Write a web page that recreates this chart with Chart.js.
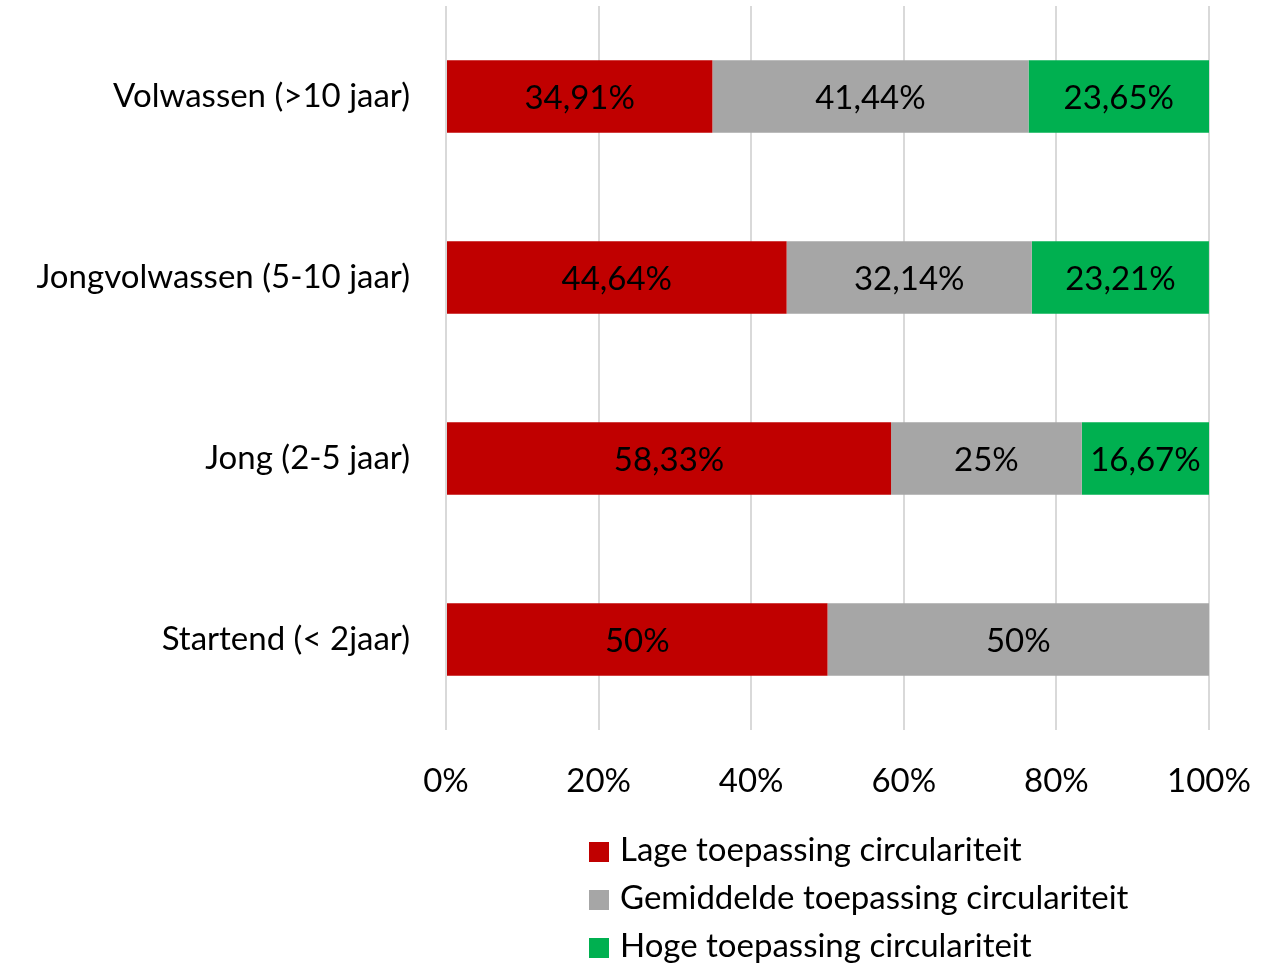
<!DOCTYPE html>
<html>
<head>
<meta charset="utf-8">
<script src="https://cdn.jsdelivr.net/npm/chart.js@4.4.1/dist/chart.umd.min.js"></script>
<style>
  body { margin:0; background:#fff; }
  #wrap { position:relative; width:1281px; height:967px; }
  #legend { position:absolute; left:589px; top:824px; font-family:Lato, sans-serif; font-size:33px; color:#000; }
  #legend div { height:48px; line-height:48px; white-space:nowrap; }
  #legend span { display:inline-block; width:20px; height:20px; margin-right:11px; vertical-align:-1px; }
</style>
</head>
<body>
<div id="wrap">
  <canvas id="chart" width="1281" height="967"></canvas>
  <div id="legend"></div>
</div>
<script>
const categories = ['Volwassen (>10 jaar)', 'Jongvolwassen (5-10 jaar)', 'Jong (2-5 jaar)', 'Startend (< 2jaar)'];
const seriesNames = ['Lage toepassing circulariteit', 'Gemiddelde toepassing circulariteit', 'Hoge toepassing circulariteit'];
const lage = [34.91, 44.64, 58.33, 50];
const gemiddeld = [41.44, 32.14, 25, 50];
const hoge = [23.65, 23.21, 16.67, 0];
const colors = ['#C00000', '#A6A6A6', '#00B050'];
const tickValues = [0, 20, 40, 60, 80, 100];

const font = 'Lato, sans-serif';
const fontSize = 33;

function fmt(v){
  return Number.isInteger(v) ? v + '%' : v.toFixed(2).replace('.', ',') + '%';
}

// draws the value inside each bar segment
const barLabels = {
  id:'barLabels',
  afterDatasetsDraw(chart){
    const c = chart.ctx;
    c.save();
    c.font = fontSize + 'px ' + font;
    c.fillStyle = '#000';
    c.textAlign = 'center';
    c.textBaseline = 'middle';
    chart.data.datasets.forEach((ds, i) => {
      const meta = chart.getDatasetMeta(i);
      meta.data.forEach((bar, j) => {
        const v = ds.data[j];
        if(!v) return;
        const p = bar.getProps(['x','base','y'], true);
        c.fillText(fmt(v), (p.x + p.base)/2, p.y + 2);
      });
    });
    c.restore();
  }
};

const ctx = document.getElementById('chart').getContext('2d');
new Chart(ctx, {
  type:'bar',
  data:{
    labels: categories,
    datasets:[
      { label:seriesNames[0], data:lage, backgroundColor:colors[0] },
      { label:seriesNames[1], data:gemiddeld, backgroundColor:colors[1] },
      { label:seriesNames[2], data:hoge, backgroundColor:colors[2] }
    ]
  },
  options:{
    indexAxis:'y',
    responsive:false,
    animation:false,
    datasets:{ bar:{ categoryPercentage:1, barPercentage:0.4 } },
    layout:{ padding:{ top:6, right:72, left:0, bottom:0 } },
    plugins:{ legend:{ display:false }, tooltip:{ enabled:false } },
    scales:{
      x:{
        stacked:true, min:0, max:100,
        afterBuildTicks: s => { s.ticks = tickValues.map(v => ({ value:v })); },
        afterFit: s => { s.height = 237; s.paddingLeft = 0; s.paddingRight = 0; },
        grid:{ color:'#D9D9D9', lineWidth:2, drawTicks:false },
        border:{ display:false },
        ticks:{ padding:32, color:'#000', font:{ family:font, size:fontSize }, callback: v => v + '%' }
      },
      y:{
        stacked:true,
        afterFit: s => { s.width = 446; s.paddingTop = 0; s.paddingBottom = 0; },
        grid:{ display:false },
        border:{ display:false },
        ticks:{ padding:28, color:'#000', font:{ family:font, size:fontSize } }
      }
    }
  },
  plugins:[barLabels]
});

const leg = document.getElementById('legend');
seriesNames.forEach((n, i) => {
  const d = document.createElement('div');
  d.innerHTML = '<span style="background:' + colors[i] + '"></span>' + n;
  leg.appendChild(d);
});
</script>
</body>
</html>
